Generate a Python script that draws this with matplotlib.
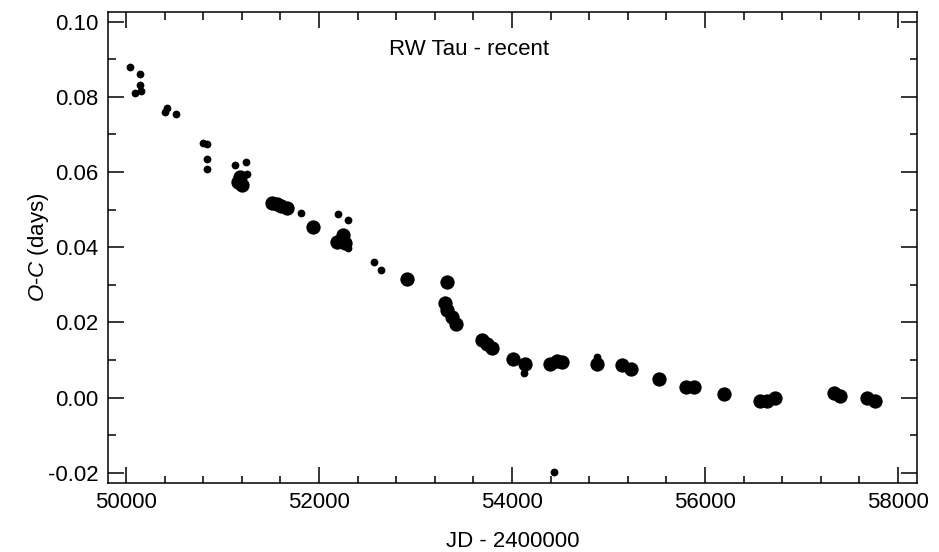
import numpy as np
import matplotlib
matplotlib.use("Agg")
import matplotlib.pyplot as plt
from matplotlib.ticker import MultipleLocator, FormatStrFormatter

plt.rcParams['font.family'] = ['Liberation Sans', 'DejaVu Sans']
plt.rcParams['mathtext.fontset'] = 'custom'
plt.rcParams['mathtext.rm'] = 'Liberation Sans'
plt.rcParams['mathtext.it'] = 'Liberation Sans:italic'

# small symbols (single timings)
jd_small = [50041, 50145, 50145, 50096, 50152, 50422, 50407, 50518, 50801, 50843,
            50843, 50837, 51133, 51244, 51251, 51213, 51814, 52201, 52298, 52305,
            52571, 52644, 54126, 54430, 54880]
oc_small = [0.0879, 0.0861, 0.0832, 0.0809, 0.0815, 0.0770, 0.0759, 0.0755, 0.0678, 0.0675,
            0.0634, 0.0607, 0.0619, 0.0627, 0.0596, 0.0587, 0.0492, 0.0487, 0.0472, 0.0397,
            0.0360, 0.0339, 0.0064, -0.0199, 0.0107]

# large symbols
jd_large = [51164, 51182, 51199, 51514, 51565, 51607, 51669, 51935, 52184, 52247,
            52270, 52916, 53331, 53307, 53325, 53377, 53421, 53688, 53739, 53791,
            54015, 54136, 54396, 54465, 54520, 54880, 55139, 55232, 55526, 55806,
            55881, 56192, 56573, 56642, 56728, 57333, 57395, 57679, 57765]
oc_large = [0.0574, 0.0588, 0.0565, 0.0518, 0.0515, 0.0510, 0.0504, 0.0454, 0.0415, 0.0432,
            0.0410, 0.0315, 0.0308, 0.0251, 0.0233, 0.0215, 0.0196, 0.0153, 0.0142, 0.0131,
            0.0102, 0.0089, 0.0089, 0.0098, 0.0094, 0.0089, 0.0086, 0.0075, 0.0048, 0.0027,
            0.0027, 0.0009, -0.0009, -0.0009, -0.0002, 0.0011, 0.0004, -0.0002, -0.0009]

fs = 16

fig = plt.figure(figsize=(9.39, 5.52), dpi=100)
ax = fig.add_axes([0.1147, 0.1245, 0.8622, 0.8543])

ax.plot(jd_small, oc_small, 'o', color='black', markersize=5.6, markeredgewidth=0)
ax.plot(jd_large, oc_large, 'o', color='black', markersize=10.3, markeredgewidth=0)

ax.set_xlim(49810, 58200)
ax.set_ylim(-0.02282, 0.10266)

ax.xaxis.set_major_locator(MultipleLocator(2000))
ax.xaxis.set_minor_locator(MultipleLocator(400))
ax.yaxis.set_major_locator(MultipleLocator(0.02))
ax.yaxis.set_minor_locator(MultipleLocator(0.01))
ax.yaxis.set_major_formatter(FormatStrFormatter('%.2f'))

ax.tick_params(which='both', direction='in', top=True, right=True, width=1.1, labelsize=fs)
ax.tick_params(which='major', length=11.5)
ax.tick_params(which='minor', length=5.4)
ax.tick_params(axis='y', pad=6.5)
ax.tick_params(axis='x', pad=6)
for s in ax.spines.values():
    s.set_linewidth(1.1)

ax.set_xlabel('JD - 2400000', fontsize=fs, labelpad=13)
ax.set_ylabel(r'$O$-$C$ (days)', fontsize=fs, labelpad=-2)
ax.text(0.446, 0.92, 'RW Tau - recent', transform=ax.transAxes, ha='center', va='center', fontsize=fs)

fig.savefig('out.png', dpi=100)
